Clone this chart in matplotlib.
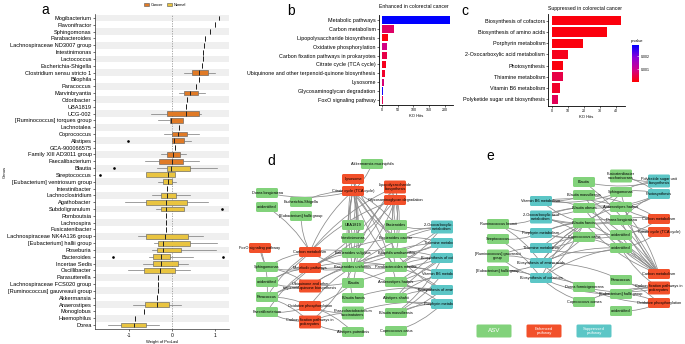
import numpy as np
import matplotlib
matplotlib.use("Agg")
import matplotlib.pyplot as plt
from matplotlib.patches import FancyBboxPatch, FancyArrowPatch, Patch
from matplotlib.colors import LinearSegmentedColormap, Normalize
from matplotlib.cm import ScalarMappable

plt.rcParams['font.family'] = ['Liberation Sans', 'DejaVu Sans']

# ---------------- data: panel a (weights per genus) ----------------
a_genus = ["Mogibacterium", "Flavonifractor", "Sphingomonas", "Parabacteroides",
           "Lachnospiraceae ND3007 group", "Intestinimonas", "Lactococcus",
           "Escherichia-Shigella", "Clostridium sensu stricto 1", "Bilophila",
           "Paracoccus", "Marvinbryantia", "Odoribacter", "UBA1819", "UCG-002",
           "[Ruminococcus] torques group", "Lachnotalea", "Coprococcus", "Alistipes",
           "GCA-900066575", "Family XIII AD3011 group", "Faecalibacterium", "Blautia",
           "Streptococcus", "[Eubacterium] ventriosum group", "Intestinibacter",
           "Lachnoclostridium", "Agathobacter", "Subdoligranulum", "Romboutsia",
           "Lachnospira", "Fusicatenibacter", "Lachnospiraceae NK4A136 group",
           "[Eubacterium] hallii group", "Roseburia", "Bacteroides", "Incertae Sedis",
           "Oscillibacter", "Parasutterella", "Lachnospiraceae FCS020 group",
           "[Ruminococcus] gauvreauii group", "Akkermansia", "Anaerostipes",
           "Monoglobus", "Haemophilus", "Dorea"]
a_med = [1.09, 1.01, 0.875, 0.78, 0.75, 0.73, 0.73, 0.69, 0.64, 0.62, 0.57, 0.43,
         0.34, 0.33, 0.32, -0.02, 0.16, 0.15, 0.05, 0.07, 0.03, 0.01, -0.03,
         -0.10, -0.10, -0.12, -0.12, -0.13, -0.14, -0.14, -0.15, -0.15, -0.16,
         -0.20, -0.20, -0.25, -0.26, -0.28, -0.32, -0.34, -0.34, -0.35, -0.35,
         -0.66, -0.87, -0.90]
a_q1 = [1.09, 1.01, 0.875, 0.78, 0.75, 0.73, 0.73, 0.69, 0.47, 0.62, 0.57, 0.29,
        0.34, 0.33, -0.12, -0.05, 0.16, 0.0, 0.0, 0.07, -0.125, -0.31, -0.12,
        -0.62, -0.22, -0.12, -0.26, -0.62, -0.27, -0.14, -0.15, -0.15, -0.62,
        -0.32, -0.36, -0.44, -0.45, -0.66, -0.32, -0.34, -0.34, -0.35, -0.63,
        -0.66, -0.87, -1.20]
a_q3 = [1.09, 1.01, 0.875, 0.78, 0.75, 0.73, 0.73, 0.69, 0.83, 0.62, 0.57, 0.60,
        0.34, 0.33, 0.62, 0.25, 0.16, 0.34, 0.29, 0.07, 0.19, 0.25, 0.41,
        0.07, 0.0, -0.12, 0.10, 0.36, 0.28, -0.14, -0.15, -0.15, 0.37,
        0.42, 0.20, -0.05, 0.15, 0.06, -0.32, -0.34, -0.34, -0.35, -0.07,
        -0.66, -0.87, -0.60]
a_lo = [1.09, 1.01, 0.875, 0.78, 0.75, 0.73, 0.73, 0.69, 0.29, 0.62, 0.57, 0.16,
        0.34, 0.33, -0.49, -0.34, 0.16, -0.19, 0.0, 0.07, -0.25, -0.63, -0.35,
        -0.62, -0.34, -0.12, -0.46, -1.10, -0.38, -0.14, -0.15, -0.15, -0.79,
        -0.43, -0.47, -0.55, -0.69, -1.03, -0.32, -0.34, -0.34, -0.35, -0.91,
        -0.66, -0.87, -1.50]
a_hi = [1.09, 1.01, 0.875, 0.78, 0.75, 0.73, 0.73, 0.69, 1.01, 0.62, 0.57, 0.76,
        0.34, 0.33, 0.67, 0.25, 0.16, 0.64, 0.44, 0.07, 0.32, 0.62, 1.05,
        0.07, 0.09, -0.12, 0.43, 0.84, 0.28, -0.14, -0.15, -0.15, 0.73,
        1.04, 1.03, 0.50, 0.38, 0.42, -0.32, -0.34, -0.34, -0.35, 0.20,
        -0.66, -0.87, -0.30]
a_out = {"Alistipes": [-1.02], "Blautia": [-1.35], "Streptococcus": [-1.69],
         "Subdoligranulum": [1.17], "Bacteroides": [-1.38, 1.20]}
a_group = ["Cancer"] * 22 + ["Normal"] * 24

# ---------------- data: panels b and c (KEGG enrichment) ----------------
b_path = ["Metabolic pathways", "Carbon metabolism", "Lipopolysaccharide biosynthesis",
          "Oxidative phosphorylation", "Carbon fixation pathways in prokaryotes",
          "Citrate cycle (TCA cycle)", "Ubiquinone and other terpenoid-quinone biosynthesis",
          "Lysosome", "Glycosaminoglycan degradation", "FoxO signaling pathway"]
b_hits = [215, 38, 19, 16, 15, 12, 10, 5, 3, 3]
b_p = [0.00285, 0.0007, 0.0001, 0.0009, 0.0005, 0.0002, 0.0003, 0.0008, 0.0027, 0.0006]

c_path = ["Biosynthesis of cofactors", "Biosynthesis of amino acids", "Porphyrin metabolism",
          "2-Oxocarboxylic acid metabolism", "Photosynthesis", "Thiamine metabolism",
          "Vitamin B6 metabolism", "Polyketide sugar unit biosynthesis"]
c_hits = [43.5, 34.5, 19.3, 10.2, 7.3, 7.3, 5.2, 4.2]
c_p = [0.0001, 0.0001, 0.0001, 0.0002, 0.0001, 0.0005, 0.0003, 0.0006]

# ---------------- data: panel d network ----------------
# node: label, type (A=ASV, E=enhanced, S=suppressed), layout x, layout y
d_nodes = [
    ("Akkermansia muciniphila", "A", 372, 164),
    ("Dorea longicatena", "A", 267, 193),
    ("unidentified", "A", 267, 207),
    ("Escherichia-Shigella", "A", 301, 202),
    ("[Eubacterium] hallii group", "A", 301, 216),
    ("UBA1819", "A", 353, 225),
    ("Intestinimonas", "A", 353, 238),
    ("Bacteroides vulgatus", "A", 353, 253),
    ("Bacteroides uniformis", "A", 353, 267),
    ("Blautia", "A", 353, 283),
    ("Blautia faecis", "A", 353, 298),
    ("Phascolarctobacterium\nsuccinatutens", "A", 353, 313),
    ("Alistipes putredinis", "A", 353, 332),
    ("Bacteroides", "A", 396, 225),
    ("Bacteroides caccae", "A", 396, 238),
    ("Bilophila wadsworthia", "A", 396, 253),
    ("Parabacteroides merdae", "A", 396, 267),
    ("Anaerostipes hadrus", "A", 396, 282),
    ("Alistipes shahii", "A", 396, 298),
    ("Blautia massiliensis", "A", 396, 313),
    ("Coprococcus catus", "A", 396, 331),
    ("Sphingomonas", "A", 267, 267),
    ("unidentified", "A", 267, 282),
    ("Paracoccus", "A", 267, 297),
    ("Faecalibacterium", "A", 267, 312),
    ("Lysosome", "E", 353, 179),
    ("Citrate cycle (TCA cycle)", "E", 353, 191),
    ("Lipopolysaccharide\nbiosynthesis", "E", 395, 187),
    ("Glycosaminoglycan degradation", "E", 395, 200),
    ("FoxO signaling pathway", "E", 260, 248),
    ("Carbon metabolism", "E", 310, 252),
    ("Metabolic pathways", "E", 310, 268),
    ("Ubiquinone and other\nterpenoid-quinone biosynthesis", "E", 310, 286),
    ("Oxidative phosphorylation", "E", 310, 306),
    ("Carbon fixation pathways in\nprokaryotes", "E", 310, 322),
    ("2-Oxocarboxylic acid\nmetabolism", "S", 442, 227),
    ("Thiamine metabolism", "S", 442, 243),
    ("Biosynthesis of cofactors", "S", 442, 258),
    ("Vitamin B6 metabolism", "S", 442, 274),
    ("Biosynthesis of amino acids", "S", 442, 290),
    ("Porphyrin metabolism", "S", 442, 304),
]
d_edges = {
    26: [0, 1, 3, 5, 6, 7, 8, 9, 10, 13, 14, 15, 16, 17, 30],
    25: [6, 7, 8, 14],
    27: [13, 14, 7, 8, 31, 30, 15],
    28: [13, 14, 16, 31, 30, 8],
    29: [21, 23],
    30: [2, 4, 21, 22, 23, 7, 8],
    31: [21, 22, 23, 24, 7, 8, 14, 15, 16],
    32: [21, 22, 23, 8, 16, 15],
    33: [23, 24, 11, 12, 9, 8],
    34: [23, 24, 12, 11, 8],
    35: [13, 14, 15, 8, 16],
    36: [14, 15, 16, 17, 8],
    37: [15, 16, 17, 18, 8, 7, 19],
    38: [16, 17, 18, 19, 8],
    39: [15, 16, 17, 18, 19, 10, 8],
    40: [17, 18, 19, 20, 11],
}

# ---------------- data: panel e network ----------------
e_nodes = [
    ("Ruminococcus bromii", "A", 498, 224),
    ("Streptococcus", "A", 498, 239),
    ("[Ruminococcus] gauvreauii\ngroup", "A", 498, 256),
    ("[Eubacterium] hallii group", "A", 498, 271),
    ("Blautia", "A", 584, 182),
    ("Blautia massiliensis", "A", 584, 195),
    ("Blautia obeum", "A", 584, 208),
    ("Blautia faecis", "A", 584, 223),
    ("Coprococcus catus", "A", 584, 237),
    ("Dorea formicigenerans", "A", 584, 287),
    ("Coprococcus comes", "A", 584, 302),
    ("Fusicatenibacter\nsaccharivorans", "A", 621, 176),
    ("Sphingomonas", "A", 621, 192),
    ("Anaerostipes hadrus", "A", 621, 207),
    ("Dorea longicatena", "A", 621, 220),
    ("unidentified", "A", 621, 235),
    ("unidentified", "A", 621, 248),
    ("Paracoccus", "A", 621, 280),
    ("[Eubacterium] hallii group", "A", 621, 294),
    ("unidentified", "A", 621, 311),
    ("Vitamin B6 metabolism", "S", 541, 201),
    ("2-Oxocarboxylic acid\nmetabolism", "S", 541, 217),
    ("Porphyrin metabolism", "S", 541, 233),
    ("Thiamine metabolism", "S", 541, 248),
    ("Biosynthesis of amino acids", "S", 541, 263),
    ("Biosynthesis of cofactors", "S", 541, 278),
    ("Polyketide sugar unit\nbiosynthesis", "S", 659, 181),
    ("Photosynthesis", "S", 659, 194),
    ("Carbon metabolism", "E", 659, 219),
    ("Citrate cycle (TCA cycle)", "E", 659, 232),
    ("Carbon metabolism", "E", 659, 274),
    ("Carbon fixation pathways in\nprokaryotes", "E", 659, 288),
    ("Oxidative phosphorylation", "E", 659, 303),
]
e_edges = {
    0: [21, 24, 22],
    1: [25, 22],
    2: [24, 25, 23],
    3: [24, 25],
    20: [5, 6, 7, 13, 12],
    21: [6, 7, 8, 12, 13, 14],
    22: [7, 8, 14, 15],
    23: [7, 8, 15, 16],
    24: [7, 8, 16, 9, 17, 7, 7],
    25: [7, 9, 10, 16, 18, 7],
    7: [12, 13, 14],
    26: [11, 12, 4],
    27: [12, 13, 14, 6, 11],
    28: [13, 14, 15, 5],
    29: [14, 15, 16],
    30: [4, 5, 6, 7, 8, 15, 16, 12, 13, 14, 7, 6, 5],
    31: [17, 18, 9, 10, 16],
    32: [18, 19, 17, 9],
}

W, H = 685, 344
fig = plt.figure(figsize=(W / 100, H / 100), dpi=100)


def px_axes(x0, y0, x1, y1):
    return fig.add_axes([x0 / W, 1 - y1 / H, (x1 - x0) / W, (y1 - y0) / H])


grp_col = {"Cancer": "#E07A26", "Normal": "#E9C440"}
node_col = {"A": "#82D27B", "E": "#F2502A", "S": "#5CC6C6"}

# ---------------- panel a ----------------
ax = px_axes(95, 13.9, 229, 329.1)
n = len(a_genus)
pos = np.arange(1, n + 1)
for i in range(0, n, 2):
    ax.axhspan(i + 0.5, i + 1.5, color="#efefef", lw=0, zorder=0)
ax.axvline(0, color="#9a9a9a", ls=(0, (1.5, 1.5)), lw=0.6, zorder=1)
stats = []
for i in range(n):
    stats.append(dict(q1=a_q1[i], med=a_med[i], q3=a_q3[i], whislo=a_lo[i],
                      whishi=a_hi[i], fliers=a_out.get(a_genus[i], [])))
bp = ax.bxp(stats, positions=pos, orientation="horizontal", widths=0.72,
            patch_artist=True, showcaps=False,
            boxprops=dict(lw=0.4, edgecolor="#555555"),
            medianprops=dict(color="#222222", lw=0.7),
            whiskerprops=dict(color="#777777", lw=0.5),
            flierprops=dict(marker="o", markersize=0.9, markerfacecolor="black",
                            markeredgecolor="black"))
for patch, g in zip(bp["boxes"], a_group):
    patch.set_facecolor(grp_col[g])
ax.set_ylim(n + 0.6, 0.4)
ax.set_xlim(-1.8, 1.33)
ax.set_yticks(pos)
ax.set_yticklabels(a_genus, fontsize=4.1)
ax.set_xticks([-1, 0, 1])
ax.set_xticklabels(["-1", "0", "1"], fontsize=3.6)
ax.tick_params(length=1.5, width=0.4, pad=1)
ax.set_xlabel("Weight of ProLasl", fontsize=3, labelpad=2)
ax.set_ylabel("Genus", fontsize=3, labelpad=2)
ax.yaxis.set_label_coords(-0.66, 0.5)
for s in ["top", "right"]:
    ax.spines[s].set_visible(False)
for s in ["left", "bottom"]:
    ax.spines[s].set_linewidth(0.5)
    ax.spines[s].set_color("#333333")
fig.legend(handles=[Patch(facecolor=grp_col["Cancer"], edgecolor="#555555", lw=0.4, label="Cancer"),
                    Patch(facecolor=grp_col["Normal"], edgecolor="#555555", lw=0.4, label="Normal")],
           loc="center", bbox_to_anchor=(165 / W, 1 - 5 / H), ncol=2, frameon=False,
           fontsize=2.8, handlelength=1.2, handleheight=1.0, columnspacing=1.0,
           handletextpad=0.5)

# ---------------- colour scale ----------------
cmap = LinearSegmentedColormap.from_list("pv", ["#ff0000", "#d0008a", "#8a00d8", "#0000ff"])
norm = Normalize(0, 0.00285)

# ---------------- panel b ----------------
axb = px_axes(378.6, 14.7, 453, 105.3)
yb = np.arange(len(b_path))
axb.barh(yb, b_hits, height=0.82, color=cmap(norm(np.array(b_p))))
axb.set_ylim(len(b_path) - 0.4, -0.6)
axb.set_xlim(-10.75, 225.75)
axb.set_yticks(yb)
axb.set_yticklabels(b_path, fontsize=3.9)
axb.set_xticks([0, 50, 100, 150, 200])
axb.tick_params(axis="x", labelsize=2.6, length=1.2, width=0.4, pad=1)
axb.tick_params(axis="y", length=1.2, width=0.4, pad=1)
axb.set_xlabel("KO Hits", fontsize=3, labelpad=1.5)
axb.set_title("Enhanced in colorectal cancer", fontsize=3.7, loc="left", pad=5)
for s in ["top", "right"]:
    axb.spines[s].set_visible(False)
for s in ["left", "bottom"]:
    axb.spines[s].set_linewidth(0.6)

# ---------------- panel c ----------------
axc = px_axes(548.2, 14, 624.8, 106)
yc = np.arange(len(c_path))
axc.barh(yc, c_hits, height=0.82, color=cmap(norm(np.array(c_p))))
axc.set_ylim(len(c_path) - 0.4, -0.6)
axc.set_xlim(-2.175, 45.7)
axc.set_yticks(yc)
axc.set_yticklabels(c_path, fontsize=3.9)
axc.set_xticks([0, 10, 20, 30, 40])
axc.tick_params(axis="x", labelsize=2.6, length=1.2, width=0.4, pad=1)
axc.tick_params(axis="y", length=1.2, width=0.4, pad=1)
axc.set_xlabel("KO Hits", fontsize=3, labelpad=1.5)
axc.set_title("Suppressed in colorectal cancer", fontsize=3.7, loc="left", pad=3)
for s in ["top", "right"]:
    axc.spines[s].set_visible(False)
for s in ["left", "bottom"]:
    axc.spines[s].set_linewidth(0.6)

cax = px_axes(632, 45, 639, 82)
cb = fig.colorbar(ScalarMappable(norm=norm, cmap=cmap), cax=cax, ticks=[0.001, 0.002])
cb.ax.set_yticklabels(["0.001", "0.002"], fontsize=2.5)
cb.outline.set_visible(False)
cb.ax.tick_params(length=1.5, width=0.4, color="white", pad=1.5, direction="in")
fig.text(631 / W, 1 - 41 / H, "p.value", fontsize=2.8, ha="left", va="center")

# ---------------- network helper ----------------


def draw_net(axn, nodes, edges, bw=22):
    k = 0
    for src, targets in edges.items():
        for t in targets:
            x0, y0 = nodes[src][2], nodes[src][3]
            x1, y1 = nodes[t][2], nodes[t][3]
            rad = 0.12 if k % 2 == 0 else -0.12
            axn.add_patch(FancyArrowPatch((x0, y0), (x1, y1), arrowstyle="-",
                                          connectionstyle=f"arc3,rad={rad}",
                                          color="#8a8a8a", lw=0.55, shrinkA=0,
                                          shrinkB=0, zorder=1))
            k += 1
    for label, typ, x, y in nodes:
        h = 13 if "\n" in label else 10
        axn.add_patch(FancyBboxPatch((x - bw / 2, y - h / 2), bw, h,
                                     boxstyle="round,pad=0,rounding_size=1.5",
                                     fc=node_col[typ], ec="none", zorder=2))
        axn.text(x, y, label, fontsize=2.8, ha="center", va="center",
                 linespacing=1.1, zorder=3, clip_on=True)


axd = px_axes(236, 150, 453, 344)
axd.set_xlim(236, 453)
axd.set_ylim(344, 150)
axd.axis("off")
draw_net(axd, d_nodes, d_edges)

axe = px_axes(455, 150, 685, 344)
axe.set_xlim(455, 685)
axe.set_ylim(344, 150)
axe.axis("off")
draw_net(axe, e_nodes, e_edges)

legend_items = [("ASV", "A", 494, 4.5), ("Enhanced\npathway", "E", 544, 3.0),
                ("Suppressed\npathway", "S", 594, 3.0)]
for label, typ, x, fs in legend_items:
    axe.add_patch(FancyBboxPatch((x - 17.5, 331 - 6.5), 35, 13,
                                 boxstyle="round,pad=0,rounding_size=1.5",
                                 fc=node_col[typ], ec="none"))
    axe.text(x, 331, label, fontsize=fs, color="white", ha="center", va="center",
             linespacing=1.1)

# ---------------- panel letters ----------------
for lab, x, y in [("a", 45, 10), ("b", 291, 11), ("c", 465, 11), ("d", 271, 161), ("e", 490, 156)]:
    fig.text(x / W, 1 - y / H, lab, fontsize=10, ha="center", va="center")

fig.savefig("out.png", dpi=100)
